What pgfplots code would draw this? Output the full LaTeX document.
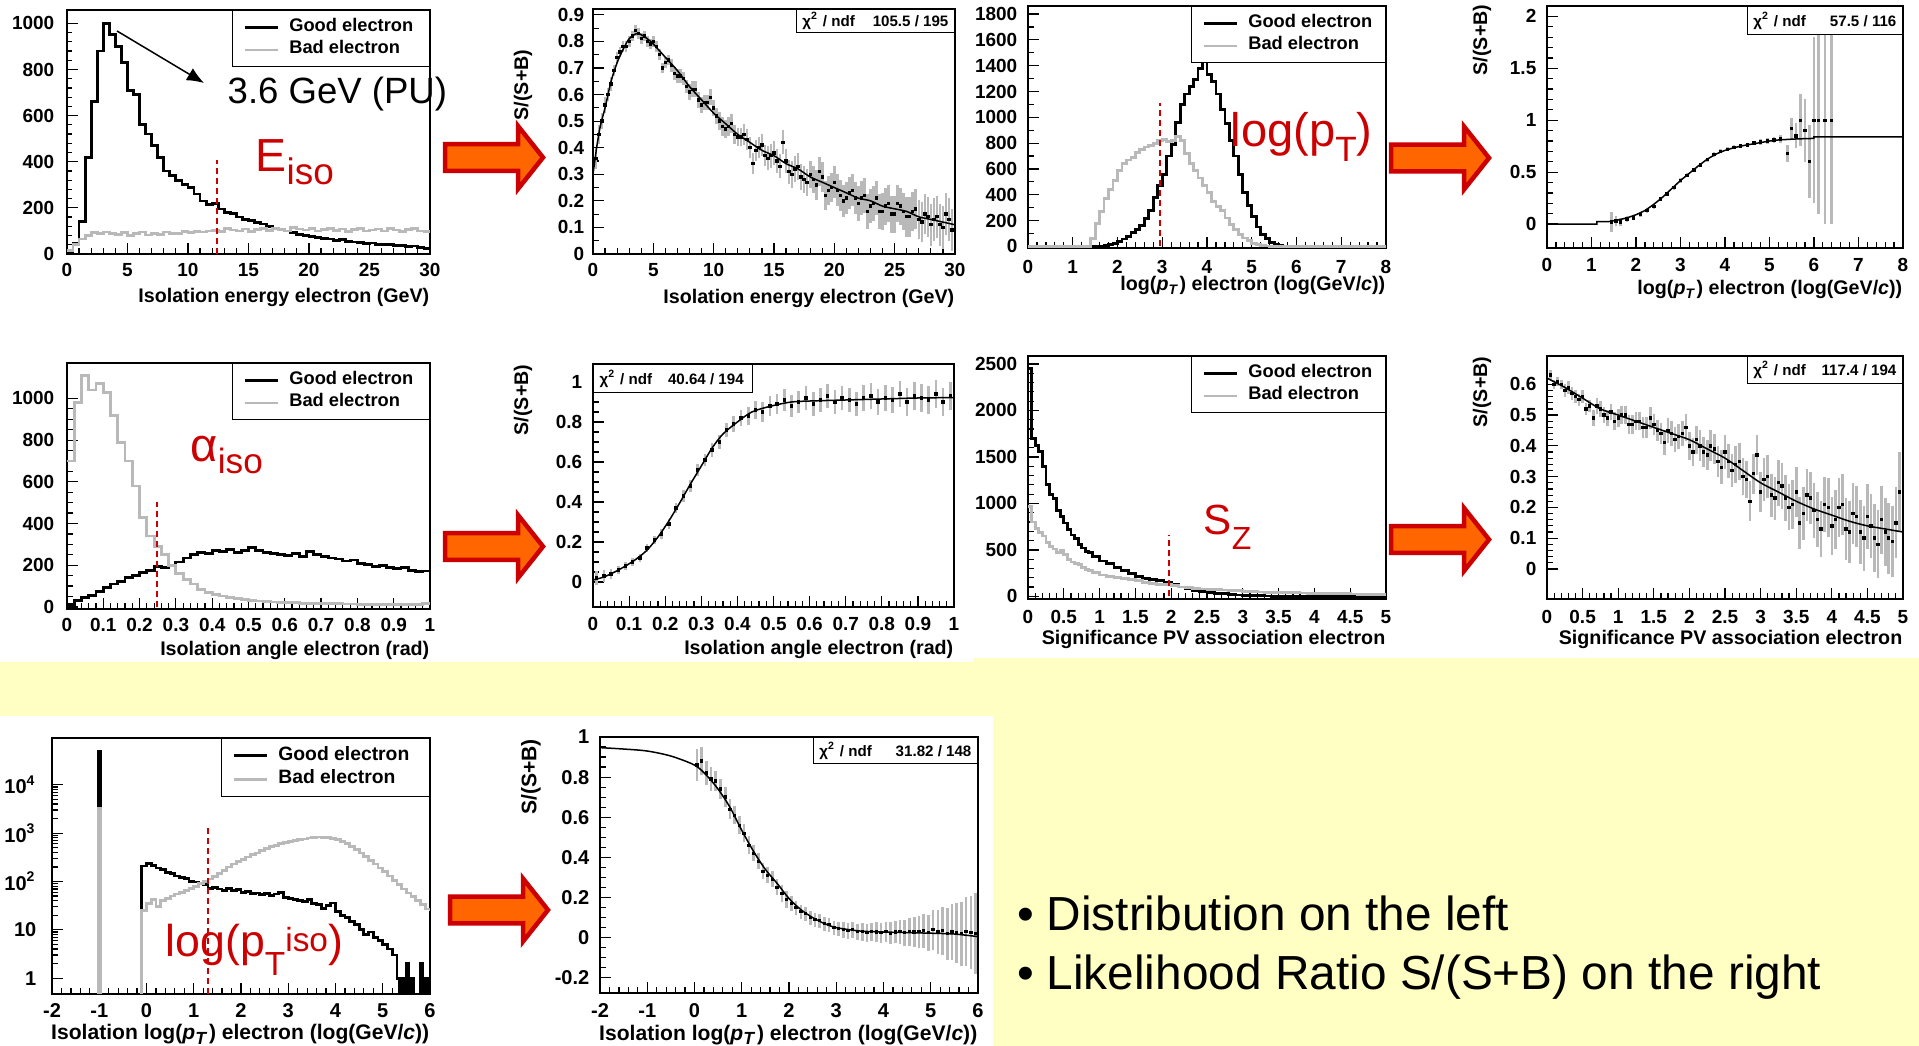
\documentclass[border=0pt]{standalone}
\usepackage{graphicx}
\usepackage{pgfplots}
\pgfplotsset{compat=1.18}
\usepackage{fontspec}
\setmainfont{Liberation Sans}
\usetikzlibrary{arrows.meta}
\definecolor{slideyellow}{RGB}{255,255,196}
\definecolor{rootgray}{RGB}{185,185,185}
\definecolor{annred}{RGB}{204,0,0}
\definecolor{arrowfill}{RGB}{255,102,0}
\newcommand\tickfont{\bfseries\fontsize{5.4pt}{6pt}\selectfont}
\newcommand\labfont{\bfseries\fontsize{5.6pt}{6.5pt}\selectfont}
\newcommand\legfont{\bfseries\fontsize{5.2pt}{6pt}\selectfont}
\newcommand\btickfont{\bfseries\fontsize{5.7pt}{6.5pt}\selectfont}
\newcommand\blabfont{\bfseries\fontsize{6.0pt}{7pt}\selectfont}
\newcommand\blegfont{\bfseries\fontsize{5.5pt}{6.5pt}\selectfont}
\newcommand\chifont{\bfseries\fontsize{4.3pt}{5pt}\selectfont}
\newcommand\bigarrow[2]{\filldraw[fill=arrowfill, draw=annred, line width=0.45mm, line join=miter] (#1+2.2,#2-13.3) -- (#1+75,#2-13.3) -- (#1+75,#2-31.5) -- (#1+100,#2) -- (#1+75,#2+31.5) -- (#1+75,#2+13.3) -- (#1+2.2,#2+13.3) -- cycle;}
\pgfplotsset{
 rootax/.style={
  scale only axis, anchor=north west,
  axis line style={line width=0.15mm},
  every tick/.style={black, line width=0.12mm},
  tick align=inside, xtick pos=left, ytick pos=left,
  major tick length=1.1mm, minor tick length=0.55mm,
  ticklabel style={font=\tickfont},
  xticklabel style={inner sep=0pt, anchor=north},
  yticklabel style={inner sep=0pt, anchor=east},
  /pgf/number format/assume math mode=true,
  /pgf/number format/1000 sep={},
  xlabel style={font=\labfont, at={(axis description cs:1,0)}, anchor=base east, inner sep=0pt},
 },
 histleg/.style={
  legend style={at={(1,1)}, anchor=north east, draw=black, line width=0.12mm, fill=white, font=\legfont, inner xsep=1.1mm, inner ysep=0.05mm, row sep=-1.0mm, /tikz/every odd column/.append style={column sep=0.3mm}},
  legend cell align=left,
  legend image code/.code={\draw[##1] (0mm,0mm) -- (3.3mm,0mm);},
 },
 good/.style={black, line width=0.28mm, const plot, no marks},
 bad/.style={rootgray, line width=0.28mm, const plot, no marks},
 cut/.style={forget plot, annred, line width=0.15mm, dash pattern=on 0.6mm off 0.4mm},
 fit/.style={black, line width=0.15mm, no marks},
 ratiopts/.style={only marks, mark=square*, mark size=0.1mm, black, error bars/.cd, y dir=both, y explicit, error mark=none, error bar style={rootgray, line width=0.26mm}},
}
\begin{document}
\begin{tikzpicture}
\fill[slideyellow] (0,0) rectangle (191.9mm,-104.6mm);
\fill[white] (0,0) rectangle (97.3mm,-66.2mm);
\fill[white] (97.3mm,0) rectangle (191.9mm,-65.8mm);
\fill[white] (0,-71.6mm) rectangle (99.3mm,-104.6mm);

% ---------- P1 ----------
\begin{axis}[rootax, histleg, at={(6.7mm,-1.0mm)}, width=36.3mm, height=24.4mm,
 xmin=0, xmax=30, ymin=0, ymax=1058, xtick={0,5,10,15,20,25,30}, ytick={0,200,400,600,800,1000},
 minor x tick num=4, minor y tick num=4, xticklabel style={yshift=-0.9mm}, yticklabel style={xshift=-1.2mm},
 xlabel={Isolation energy electron (GeV)}, xlabel style={yshift=-4.9mm}]
\addplot[good] coordinates {(0,12)(0.5,45)(1,140)(1.5,420)(2,660)(2.5,880)(3,1000)(3.5,950)(4,900)(4.5,830)(5,710)(5.5,690)(6,560)(6.5,520)(7,470)(7.5,420)(8,360)(8.5,340)(9,320)(9.5,300)(10,290)(10.5,260)(11,230)(11.5,215)(12,220)(12.5,195)(13,180)(13.5,175)(14,160)(14.5,150)(15,145)(15.5,135)(16,130)(16.5,120)(17,110)(17.5,105)(18,100)(18.5,92)(19,85)(19.5,80)(20,75)(20.5,70)(21,68)(21.5,65)(22,60)(22.5,62)(23,55)(23.5,52)(24,50)(24.5,45)(25,48)(25.5,42)(26,40)(26.5,42)(27,38)(27.5,36)(28,33)(28.5,35)(29,28)(29.5,24)(30,24)};
\addlegendentry{\makebox[12.2mm][l]{Good electron}}
\addplot[bad] coordinates {(0,15)(0.5,40)(1,65)(1.5,80)(2,92)(2.5,88)(3,95)(3.5,90)(4,85)(4.5,92)(5,80)(5.5,88)(6,95)(6.5,82)(7,90)(7.5,86)(8,95)(8.5,90)(9,88)(9.5,96)(10,92)(10.5,98)(11,95)(11.5,100)(12,102)(12.5,98)(13,110)(13.5,104)(14,100)(14.5,108)(15,96)(15.5,105)(16,110)(16.5,102)(17,112)(17.5,106)(18,100)(18.5,115)(19,108)(19.5,104)(20,110)(20.5,100)(21,106)(21.5,112)(22,102)(22.5,108)(23,98)(23.5,106)(24,110)(24.5,100)(25,104)(25.5,108)(26,100)(26.5,112)(27,104)(27.5,98)(28,106)(28.5,110)(29,100)(29.5,96)(30,96)};
\addlegendentry{\makebox[12.2mm][l]{Bad electron}}
\addplot[cut] coordinates {(12.4,0)(12.4,407)};
\end{axis}

% ---------- P2 ----------
\begin{axis}[rootax, at={(59.3mm,-0.9mm)}, width=36.2mm, height=24.5mm,
 xmin=0, xmax=30, ymin=0, ymax=0.922, xtick={0,5,10,15,20,25,30}, ytick={0,0.1,0.2,0.3,0.4,0.5,0.6,0.7,0.8,0.9},
 minor x tick num=4, minor y tick num=1, xticklabel style={yshift=-0.9mm}, yticklabel style={xshift=-0.8mm},
 xlabel={Isolation energy electron (GeV)}, xlabel style={yshift=-5.0mm}]
\addplot[ratiopts] coordinates {(0.25,0.36)+-(0,0.04) (0.75,0.50)+-(0,0.03) (1.25,0.60)+-(0,0.025) (1.75,0.69)+-(0,0.02) (2.25,0.76)+-(0,0.02) (2.75,0.78)+-(0,0.02) (3.25,0.82)+-(0,0.02) (3.75,0.83)+-(0,0.02) (4.25,0.82)+-(0,0.02) (4.75,0.79)+-(0,0.02) (5.25,0.78)+-(0,0.02) (5.75,0.70)+-(0,0.02) (6.25,0.73)+-(0,0.02) (6.75,0.68)+-(0,0.025) (7.25,0.67)+-(0,0.025) (7.75,0.63)+-(0,0.025) (8.25,0.62)+-(0,0.03) (8.75,0.58)+-(0,0.03) (9.25,0.57)+-(0,0.03) (9.75,0.59)+-(0,0.03) (10.25,0.52)+-(0,0.03) (10.75,0.48)+-(0,0.035) (11.25,0.48)+-(0,0.035) (11.75,0.45)+-(0,0.035) (12.25,0.44)+-(0,0.035) (12.75,0.43)+-(0,0.04) (13.25,0.34)+-(0,0.04) (13.75,0.40)+-(0,0.04) (14.25,0.37)+-(0,0.04) (14.75,0.37)+-(0,0.045) (15.25,0.35)+-(0,0.045) (15.75,0.42)+-(0,0.045) (16.25,0.31)+-(0,0.045) (16.75,0.32)+-(0,0.05) (17.25,0.29)+-(0,0.05) (17.75,0.27)+-(0,0.05) (18.25,0.28)+-(0,0.05) (18.75,0.31)+-(0,0.055) (19.25,0.22)+-(0,0.055) (19.75,0.25)+-(0,0.055) (20.25,0.24)+-(0,0.06) (20.75,0.20)+-(0,0.06) (21.25,0.23)+-(0,0.06) (21.75,0.21)+-(0,0.06) (22.25,0.21)+-(0,0.065) (22.75,0.16)+-(0,0.065) (23.25,0.19)+-(0,0.065) (23.75,0.16)+-(0,0.065) (24.25,0.18)+-(0,0.07) (24.75,0.15)+-(0,0.07) (25.25,0.19)+-(0,0.07) (25.75,0.16)+-(0,0.07) (26.25,0.14)+-(0,0.075) (26.75,0.17)+-(0,0.075) (27.25,0.12)+-(0,0.075) (27.75,0.14)+-(0,0.075) (28.25,0.13)+-(0,0.08) (28.75,0.11)+-(0,0.08) (29.25,0.15)+-(0,0.08) (29.75,0.09)+-(0,0.08)};
\addplot[ratiopts] coordinates {(0.5,0.45)+-(0,0.035) (1,0.56)+-(0,0.03) (1.5,0.64)+-(0,0.025) (2,0.74)+-(0,0.02) (2.5,0.78)+-(0,0.02) (3,0.80)+-(0,0.02) (3.5,0.84)+-(0,0.02) (4,0.81)+-(0,0.02) (4.5,0.80)+-(0,0.02) (5,0.80)+-(0,0.02) (5.5,0.75)+-(0,0.02) (6,0.72)+-(0,0.02) (6.5,0.71)+-(0,0.025) (7,0.67)+-(0,0.025) (7.5,0.66)+-(0,0.025) (8,0.61)+-(0,0.03) (8.5,0.62)+-(0,0.03) (9,0.56)+-(0,0.03) (9.5,0.57)+-(0,0.03) (10,0.55)+-(0,0.03) (10.5,0.50)+-(0,0.035) (11,0.47)+-(0,0.035) (11.5,0.49)+-(0,0.035) (12,0.44)+-(0,0.035) (12.5,0.45)+-(0,0.04) (13,0.40)+-(0,0.04) (13.5,0.39)+-(0,0.04) (14,0.41)+-(0,0.04) (14.5,0.36)+-(0,0.045) (15,0.38)+-(0,0.045) (15.5,0.33)+-(0,0.045) (16,0.35)+-(0,0.045) (16.5,0.30)+-(0,0.05) (17,0.33)+-(0,0.05) (17.5,0.28)+-(0,0.05) (18,0.30)+-(0,0.05) (18.5,0.26)+-(0,0.055) (19,0.29)+-(0,0.055) (19.5,0.24)+-(0,0.055) (20,0.27)+-(0,0.06) (20.5,0.22)+-(0,0.06) (21,0.21)+-(0,0.06) (21.5,0.24)+-(0,0.06) (22,0.19)+-(0,0.065) (22.5,0.22)+-(0,0.065) (23,0.18)+-(0,0.065) (23.5,0.21)+-(0,0.065) (24,0.16)+-(0,0.07) (24.5,0.19)+-(0,0.07) (25,0.15)+-(0,0.07) (25.5,0.18)+-(0,0.07) (26,0.14)+-(0,0.075) (26.5,0.16)+-(0,0.075) (27,0.13)+-(0,0.075) (27.5,0.15)+-(0,0.075) (28,0.11)+-(0,0.08) (28.5,0.14)+-(0,0.08) (29,0.10)+-(0,0.08) (29.5,0.13)+-(0,0.08)};
\addplot[fit, smooth] coordinates {(0,0.30)(0.3,0.40)(0.6,0.48)(1,0.55)(1.5,0.65)(2,0.72)(2.5,0.77)(3,0.81)(3.7,0.83)(4.5,0.81)(5,0.79)(6,0.74)(7,0.69)(8,0.63)(9,0.58)(10,0.53)(11,0.49)(12,0.45)(13,0.42)(14,0.39)(15,0.37)(16,0.34)(17,0.32)(18,0.29)(19,0.27)(20,0.25)(21,0.23)(22,0.21)(23,0.20)(24,0.18)(25,0.17)(26,0.16)(27,0.14)(28,0.13)(29,0.12)(30,0.11)};
\node[draw=black, line width=0.12mm, fill=white, inner sep=0pt, minimum height=2.3mm, font=\chifont, anchor=north east] at (rel axis cs:1,1) {\makebox[15.8mm]{\hspace{0.6mm}χ\textsuperscript{2} / ndf\hfill 105.5 / 195\hspace{0.6mm}}};
\end{axis}

% ---------- P3 ----------
\begin{axis}[rootax, histleg, at={(102.8mm,-0.6mm)}, width=35.8mm, height=24.2mm,
 xmin=0, xmax=8, ymin=-12, ymax=1862, xtick={0,1,2,3,4,5,6,7,8}, ytick={0,200,400,600,800,1000,1200,1400,1600,1800},
 minor x tick num=4, minor y tick num=1, xticklabel style={yshift=-1.2mm}, yticklabel style={xshift=-1.0mm},
 xlabel={log(\textit{p}\textsubscript{\textit{T}}) electron (log(GeV/\textit{c}))}, xlabel style={yshift=-4.3mm}]
\addplot[good] coordinates {(1.4,0)(1.5,2)(1.6,4)(1.7,8)(1.8,14)(1.9,22)(2,40)(2.1,58)(2.2,80)(2.3,105)(2.4,130)(2.5,160)(2.6,215)(2.7,280)(2.8,380)(2.9,470)(3,560)(3.1,700)(3.2,790)(3.3,960)(3.4,1100)(3.5,1180)(3.6,1240)(3.7,1290)(3.8,1380)(3.9,1430)(4,1330)(4.1,1280)(4.2,1180)(4.3,1060)(4.4,950)(4.5,820)(4.6,700)(4.7,560)(4.8,420)(4.9,320)(5,230)(5.1,150)(5.2,90)(5.3,60)(5.4,32)(5.5,18)(5.6,8)(5.7,4)(5.8,2)(5.9,0)(8,0)};
\addlegendentry{\makebox[11.9mm][l]{Good electron}}
\addplot[bad] coordinates {(0,0)(1.4,60)(1.5,180)(1.6,270)(1.7,370)(1.8,440)(1.9,510)(2,590)(2.1,640)(2.2,670)(2.3,690)(2.4,730)(2.5,750)(2.6,770)(2.7,780)(2.8,800)(2.9,820)(3,830)(3.1,810)(3.2,820)(3.3,850)(3.4,820)(3.5,720)(3.6,640)(3.7,590)(3.8,530)(3.9,470)(4,420)(4.1,350)(4.2,310)(4.3,280)(4.4,220)(4.5,170)(4.6,130)(4.7,95)(4.8,65)(4.9,45)(5,25)(5.1,15)(5.2,8)(5.3,4)(5.4,0)(8,0)};
\addlegendentry{\makebox[11.9mm][l]{Bad electron}}
\addplot[cut] coordinates {(2.95,0)(2.95,1111)};
\end{axis}

% ---------- P4 ----------
\begin{axis}[rootax, at={(154.7mm,-0.6mm)}, width=35.6mm, height=24.2mm,
 xmin=0, xmax=8, ymin=-0.23, ymax=2.10, xtick={0,1,2,3,4,5,6,7,8}, ytick={0,0.5,1,1.5,2},
 minor x tick num=4, minor y tick num=4, xticklabel style={yshift=-1.0mm}, yticklabel style={xshift=-1.0mm},
 xlabel={log(\textit{p}\textsubscript{\textit{T}}) electron (log(GeV/\textit{c}))}, xlabel style={yshift=-4.7mm}]
\addplot[ratiopts] coordinates {(1.45,0.02)+-(0,0.10) (1.55,0.03)+-(0,0.05) (1.65,0.02)+-(0,0.04) (1.8,0.05)+-(0,0.03) (1.95,0.06)+-(0,0.02) (2.1,0.09)+-(0,0.02) (2.25,0.13)+-(0,0.02) (2.4,0.17)+-(0,0.02) (2.55,0.24)+-(0,0.02) (2.7,0.29)+-(0,0.02) (2.85,0.35)+-(0,0.02) (3,0.42)+-(0,0.02) (3.15,0.47)+-(0,0.02) (3.3,0.52)+-(0,0.02) (3.45,0.57)+-(0,0.02) (3.6,0.62)+-(0,0.02) (3.75,0.67)+-(0,0.02) (3.9,0.70)+-(0,0.02) (4.05,0.72)+-(0,0.02) (4.2,0.74)+-(0,0.02) (4.35,0.75)+-(0,0.02) (4.5,0.76)+-(0,0.02) (4.65,0.78)+-(0,0.02) (4.8,0.79)+-(0,0.025) (4.95,0.80)+-(0,0.03) (5.1,0.81)+-(0,0.03) (5.25,0.82)+-(0,0.04) (5.4,0.68)+-(0,0.08) (5.5,0.92)+-(0,0.10) (5.6,0.85)+-(0,0.12) (5.7,1.0)+-(0,0.25) (5.8,0.90)+-(0,0.30) (5.9,0.60)+-(0,0.35) (6.0,1.0)+-(0,0.8) (6.1,1.0)+-(0,0.9) (6.25,1.0)+-(0,1.0) (6.4,1.0)+-(0,1.0)};
\addplot[fit] coordinates {(0,0)(1.12,0)(1.12,0.023)(1.4,0.025)(1.6,0.04)(1.8,0.06)(2,0.09)(2.2,0.13)(2.4,0.19)(2.6,0.26)(2.8,0.34)(3,0.42)(3.2,0.49)(3.4,0.56)(3.6,0.625)(3.8,0.675)(4,0.71)(4.2,0.735)(4.4,0.755)(4.6,0.77)(4.8,0.785)(5,0.80)(5.2,0.81)(5.4,0.815)(5.6,0.82)(6,0.825)(6,0.84)(8,0.84)};
\node[draw=black, line width=0.12mm, fill=white, inner sep=0pt, minimum height=2.8mm, font=\chifont, anchor=north east] at (rel axis cs:1,1) {\makebox[15.5mm]{\hspace{0.6mm}χ\textsuperscript{2} / ndf\hfill 57.5 / 116\hspace{0.6mm}}};
\end{axis}

% ---------- P5 ----------
\begin{axis}[rootax, histleg, at={(6.7mm,-36.3mm)}, width=36.3mm, height=24.6mm,
 xmin=0, xmax=1, ymin=-10, ymax=1170, xtick={0,0.1,0.2,0.3,0.4,0.5,0.6,0.7,0.8,0.9,1}, ytick={0,200,400,600,800,1000},
 minor x tick num=4, minor y tick num=3, xticklabel style={yshift=-0.9mm}, yticklabel style={xshift=-1.2mm},
 xlabel={Isolation angle electron (rad)}, xlabel style={yshift=-4.7mm}]
\addplot[good] coordinates {(0,10)(0.02,30)(0.04,45)(0.06,55)(0.08,75)(0.1,95)(0.12,110)(0.14,120)(0.16,140)(0.18,150)(0.2,165)(0.22,175)(0.24,195)(0.26,190)(0.28,200)(0.3,215)(0.32,235)(0.34,250)(0.36,260)(0.38,255)(0.4,270)(0.42,265)(0.44,275)(0.46,260)(0.48,270)(0.5,285)(0.52,270)(0.54,260)(0.56,255)(0.58,250)(0.6,245)(0.62,255)(0.64,240)(0.66,265)(0.68,250)(0.7,240)(0.72,235)(0.74,230)(0.76,220)(0.78,225)(0.8,210)(0.82,205)(0.84,195)(0.86,200)(0.88,190)(0.9,185)(0.92,190)(0.94,175)(0.96,170)(0.98,172)(1,172)};
\addlegendentry{\makebox[12.2mm][l]{Good electron}}
\addplot[bad] coordinates {(0,700)(0.02,980)(0.04,1110)(0.06,1040)(0.08,1070)(0.1,1030)(0.12,920)(0.14,790)(0.16,700)(0.18,580)(0.2,430)(0.22,340)(0.24,290)(0.26,250)(0.28,200)(0.3,160)(0.32,130)(0.34,110)(0.36,85)(0.38,70)(0.4,58)(0.42,52)(0.44,45)(0.46,40)(0.48,35)(0.5,30)(0.52,28)(0.54,26)(0.56,24)(0.58,22)(0.6,20)(0.62,20)(0.64,18)(0.66,18)(0.68,16)(0.7,16)(0.72,15)(0.74,15)(0.76,14)(0.78,14)(0.8,13)(0.82,12)(0.84,12)(0.86,12)(0.88,11)(0.9,11)(0.92,10)(0.94,10)(0.96,10)(0.98,15)(1,15)};
\addlegendentry{\makebox[12.2mm][l]{Bad electron}}
\addplot[cut] coordinates {(0.248,0)(0.248,503)};
\end{axis}

% ---------- P6 ----------
\begin{axis}[rootax, at={(59.3mm,-36.4mm)}, width=36.1mm, height=24.3mm,
 xmin=0, xmax=1, ymin=-0.125, ymax=1.09, xtick={0,0.1,0.2,0.3,0.4,0.5,0.6,0.7,0.8,0.9,1}, ytick={0,0.2,0.4,0.6,0.8,1},
 minor x tick num=4, minor y tick num=3, xticklabel style={yshift=-1.0mm}, yticklabel style={xshift=-1.0mm},
 xlabel={Isolation angle electron (rad)}, xlabel style={yshift=-4.8mm}]
\addplot[ratiopts] coordinates {(0.01,0.02)+-(0,0.035) (0.03,0.03)+-(0,0.03) (0.05,0.04)+-(0,0.025) (0.07,0.06)+-(0,0.02) (0.09,0.08)+-(0,0.02) (0.11,0.10)+-(0,0.02) (0.13,0.12)+-(0,0.02) (0.15,0.17)+-(0,0.02) (0.17,0.21)+-(0,0.02) (0.19,0.24)+-(0,0.025) (0.21,0.29)+-(0,0.025) (0.23,0.37)+-(0,0.025) (0.25,0.43)+-(0,0.03) (0.27,0.48)+-(0,0.03) (0.29,0.56)+-(0,0.03) (0.31,0.61)+-(0,0.03) (0.33,0.66)+-(0,0.035) (0.35,0.70)+-(0,0.035) (0.37,0.76)+-(0,0.035) (0.39,0.79)+-(0,0.04) (0.41,0.82)+-(0,0.04) (0.43,0.83)+-(0,0.045) (0.45,0.86)+-(0,0.045) (0.47,0.85)+-(0,0.05) (0.49,0.88)+-(0,0.05) (0.51,0.89)+-(0,0.05) (0.53,0.91)+-(0,0.055) (0.55,0.88)+-(0,0.055) (0.57,0.90)+-(0,0.055) (0.59,0.92)+-(0,0.06) (0.61,0.89)+-(0,0.06) (0.63,0.91)+-(0,0.06) (0.65,0.93)+-(0,0.06) (0.67,0.90)+-(0,0.06) (0.69,0.92)+-(0,0.06) (0.71,0.91)+-(0,0.06) (0.73,0.89)+-(0,0.06) (0.75,0.92)+-(0,0.065) (0.77,0.93)+-(0,0.065) (0.79,0.90)+-(0,0.065) (0.81,0.92)+-(0,0.065) (0.83,0.91)+-(0,0.065) (0.85,0.94)+-(0,0.065) (0.87,0.90)+-(0,0.07) (0.89,0.93)+-(0,0.07) (0.91,0.92)+-(0,0.07) (0.93,0.91)+-(0,0.07) (0.95,0.94)+-(0,0.07) (0.97,0.90)+-(0,0.07) (0.99,0.93)+-(0,0.07)};
\addplot[fit, smooth] coordinates {(0,0.01)(0.03,0.025)(0.06,0.05)(0.09,0.08)(0.12,0.115)(0.15,0.16)(0.18,0.225)(0.21,0.305)(0.24,0.395)(0.27,0.49)(0.3,0.58)(0.33,0.67)(0.36,0.74)(0.4,0.80)(0.44,0.85)(0.49,0.878)(0.55,0.90)(0.62,0.906)(0.7,0.91)(0.8,0.915)(0.9,0.92)(1,0.922)};
\node[draw=black, line width=0.12mm, fill=white, inner sep=0pt, minimum height=2.8mm, font=\chifont, anchor=north west] at (rel axis cs:0,1) {\makebox[15.9mm]{\hspace{0.6mm}χ\textsuperscript{2} / ndf\hspace{1.6mm}40.64 / 194\hfill}};
\end{axis}

% ---------- P7 ----------
\begin{axis}[rootax, histleg, at={(102.8mm,-35.6mm)}, width=35.8mm, height=24.3mm,
 xmin=0, xmax=5, ymin=-28, ymax=2586, xtick={0,0.5,1,1.5,2,2.5,3,3.5,4,4.5,5}, ytick={0,500,1000,1500,2000,2500},
 minor x tick num=4, minor y tick num=4, xticklabel style={yshift=-1.1mm}, yticklabel style={xshift=-1.0mm},
 xlabel={Significance PV association electron}, xlabel style={yshift=-4.6mm}]
\addplot[good] coordinates {(0,2450)(0.05,1700)(0.1,1620)(0.15,1560)(0.2,1400)(0.25,1200)(0.3,1100)(0.35,1050)(0.4,920)(0.45,860)(0.5,790)(0.55,720)(0.6,660)(0.65,620)(0.7,560)(0.75,520)(0.8,480)(0.85,470)(0.9,430)(1,380)(1.1,350)(1.2,310)(1.3,280)(1.4,250)(1.5,210)(1.6,190)(1.7,185)(1.8,170)(1.9,150)(2,130)(2.1,100)(2.2,80)(2.3,65)(2.4,55)(2.5,45)(2.6,35)(2.7,28)(2.8,22)(2.9,15)(3,12)(3.1,8)(3.2,6)(3.3,4)(3.4,3)(3.5,3)(3.6,2)(3.7,2)(3.8,2)(3.9,1)(4,1)(4.5,1)(4.6,0)(5,0)};
\addlegendentry{\makebox[11.9mm][l]{Good electron}}
\addplot[bad] coordinates {(0,970)(0.05,800)(0.1,730)(0.15,690)(0.2,650)(0.25,580)(0.3,540)(0.35,510)(0.4,470)(0.45,500)(0.5,450)(0.55,400)(0.6,370)(0.65,350)(0.7,340)(0.75,310)(0.8,290)(0.85,280)(0.9,260)(1,230)(1.1,210)(1.2,200)(1.3,190)(1.4,180)(1.5,170)(1.6,150)(1.7,140)(1.8,130)(1.9,125)(2,120)(2.1,100)(2.2,92)(2.3,85)(2.4,80)(2.5,75)(2.6,72)(2.7,68)(2.8,65)(2.9,60)(3,55)(3.1,52)(3.2,48)(3.3,45)(3.4,45)(3.5,42)(3.6,40)(3.7,38)(3.8,36)(3.9,35)(4,33)(4.1,32)(4.2,30)(4.3,28)(4.4,27)(4.5,25)(4.6,24)(4.7,22)(4.8,20)(4.9,18)(5,18)};
\addlegendentry{\makebox[11.9mm][l]{Bad electron}}
\addplot[cut] coordinates {(1.97,0)(1.97,663)};
\end{axis}

% ---------- P8 ----------
\begin{axis}[rootax, at={(154.7mm,-35.6mm)}, width=35.6mm, height=24.3mm,
 xmin=0, xmax=5, ymin=-0.0975, ymax=0.692, xtick={0,0.5,1,1.5,2,2.5,3,3.5,4,4.5,5}, ytick={0,0.1,0.2,0.3,0.4,0.5,0.6},
 minor x tick num=4, minor y tick num=4, xticklabel style={yshift=-1.1mm}, yticklabel style={xshift=-1.0mm},
 xlabel={Significance PV association electron}, xlabel style={yshift=-4.6mm}]
\addplot[ratiopts] coordinates {(0.05,0.63)+-(0,0.015) (0.15,0.61)+-(0,0.015) (0.25,0.58)+-(0,0.02) (0.35,0.57)+-(0,0.02) (0.45,0.55)+-(0,0.02) (0.55,0.52)+-(0,0.02) (0.65,0.49)+-(0,0.025) (0.75,0.52)+-(0,0.025) (0.85,0.49)+-(0,0.025) (0.95,0.48)+-(0,0.03) (1.05,0.50)+-(0,0.03) (1.15,0.47)+-(0,0.03) (1.25,0.48)+-(0,0.03) (1.35,0.46)+-(0,0.035) (1.45,0.49)+-(0,0.035) (1.55,0.45)+-(0,0.035) (1.65,0.41)+-(0,0.04) (1.75,0.44)+-(0,0.04) (1.85,0.43)+-(0,0.04) (1.95,0.46)+-(0,0.045) (2.05,0.38)+-(0,0.045) (2.15,0.40)+-(0,0.05) (2.25,0.37)+-(0,0.05) (2.35,0.39)+-(0,0.05) (2.45,0.33)+-(0,0.055) (2.55,0.35)+-(0,0.055) (2.65,0.34)+-(0,0.06) (2.75,0.30)+-(0,0.06) (2.85,0.22)+-(0,0.065) (2.95,0.37)+-(0,0.065) (3.05,0.29)+-(0,0.07) (3.15,0.24)+-(0,0.07) (3.25,0.28)+-(0,0.075) (3.35,0.23)+-(0,0.075) (3.45,0.21)+-(0,0.08) (3.55,0.15)+-(0,0.085) (3.65,0.24)+-(0,0.085) (3.75,0.19)+-(0,0.09) (3.85,0.13)+-(0,0.09) (3.95,0.20)+-(0,0.095) (4.05,0.16)+-(0,0.095) (4.15,0.21)+-(0,0.1) (4.25,0.12)+-(0,0.1) (4.35,0.17)+-(0,0.1) (4.45,0.10)+-(0,0.105) (4.55,0.14)+-(0,0.105) (4.65,0.08)+-(0,0.11) (4.75,0.12)+-(0,0.11) (4.85,0.09)+-(0,0.115) (4.95,0.25)+-(0,0.13)};
\addplot[ratiopts] coordinates {(0.1,0.60)+-(0,0.015) (0.2,0.60)+-(0,0.015) (0.3,0.59)+-(0,0.02) (0.4,0.56)+-(0,0.02) (0.5,0.56)+-(0,0.02) (0.6,0.53)+-(0,0.02) (0.7,0.53)+-(0,0.025) (0.8,0.50)+-(0,0.025) (0.9,0.51)+-(0,0.025) (1,0.49)+-(0,0.03) (1.1,0.50)+-(0,0.03) (1.2,0.47)+-(0,0.03) (1.3,0.48)+-(0,0.03) (1.4,0.46)+-(0,0.035) (1.5,0.47)+-(0,0.035) (1.6,0.44)+-(0,0.035) (1.7,0.45)+-(0,0.04) (1.8,0.42)+-(0,0.04) (1.9,0.44)+-(0,0.04) (2,0.40)+-(0,0.045) (2.1,0.42)+-(0,0.045) (2.2,0.38)+-(0,0.05) (2.3,0.40)+-(0,0.05) (2.4,0.35)+-(0,0.05) (2.5,0.38)+-(0,0.055) (2.6,0.32)+-(0,0.055) (2.7,0.35)+-(0,0.06) (2.8,0.29)+-(0,0.06) (2.9,0.31)+-(0,0.065) (3,0.25)+-(0,0.065) (3.1,0.30)+-(0,0.07) (3.2,0.23)+-(0,0.07) (3.3,0.27)+-(0,0.075) (3.4,0.20)+-(0,0.075) (3.5,0.25)+-(0,0.08) (3.6,0.18)+-(0,0.085) (3.7,0.23)+-(0,0.085) (3.8,0.16)+-(0,0.09) (3.9,0.21)+-(0,0.09) (4,0.14)+-(0,0.095) (4.1,0.20)+-(0,0.095) (4.2,0.13)+-(0,0.1) (4.3,0.18)+-(0,0.1) (4.4,0.12)+-(0,0.105) (4.5,0.17)+-(0,0.105) (4.6,0.10)+-(0,0.11) (4.7,0.16)+-(0,0.11) (4.8,0.10)+-(0,0.115) (4.9,0.15)+-(0,0.115)};
\addplot[fit, smooth] coordinates {(0,0.62)(0.25,0.59)(0.5,0.555)(0.75,0.52)(1,0.50)(1.25,0.48)(1.5,0.46)(1.75,0.44)(2,0.42)(2.25,0.39)(2.5,0.36)(2.75,0.32)(3,0.28)(3.25,0.25)(3.5,0.22)(3.75,0.195)(4,0.175)(4.25,0.155)(4.5,0.14)(4.75,0.13)(5,0.12)};
\node[draw=black, line width=0.12mm, fill=white, inner sep=0pt, minimum height=2.7mm, font=\chifont, anchor=north east] at (rel axis cs:1,1) {\makebox[15.5mm]{\hspace{0.6mm}χ\textsuperscript{2} / ndf\hfill 117.4 / 194\hspace{0.6mm}}};
\end{axis}

% ---------- P9 ----------
\begin{axis}[rootax, histleg, at={(5.2mm,-73.8mm)}, width=37.8mm, height=25.6mm, ymode=log,
 xmin=-2, xmax=6, ymin=0.47, ymax=93000, xtick={-2,-1,0,1,2,3,4,5,6}, ytick={1,10,100,1000,10000},
 yticklabels={1,10,10\textsuperscript{2},10\textsuperscript{3},10\textsuperscript{4}},
 ticklabel style={font=\btickfont}, xlabel style={font=\blabfont}, legend style={font=\blegfont},
 minor x tick num=4, xticklabel style={yshift=-0.9mm}, yticklabel style={xshift=-1.5mm},
 xlabel={Isolation log(\textit{p}\textsubscript{\textit{T}}) electron (log(GeV/\textit{c}))}, xlabel style={yshift=-4.6mm}]
\addplot[good] coordinates {(-2,0.01)(-1.02,49000)(-0.98,0.01)(-0.1,210)(0,235)(0.1,215)(0.2,190)(0.3,175)(0.4,155)(0.5,145)(0.6,130)(0.7,120)(0.8,115)(0.9,100)(1,98)(1.1,92)(1.2,85)(1.3,72)(1.4,74)(1.5,70)(1.6,66)(1.7,72)(1.8,64)(1.9,68)(2,60)(2.1,63)(2.2,56)(2.3,58)(2.4,54)(2.5,57)(2.6,52)(2.7,55)(2.8,60)(2.9,46)(3,45)(3.1,42)(3.2,40)(3.3,38)(3.4,42)(3.5,35)(3.6,33)(3.7,28)(3.8,32)(3.9,36)(4,24)(4.1,20)(4.2,18)(4.3,15)(4.4,13)(4.5,10)(4.6,8)(4.7,9)(4.8,7)(4.9,6)(5,5)(5.1,4)(5.2,3)(5.3,1)(5.35,0.01)(5.4,1)(5.45,0.01)(5.5,2)(5.55,0.01)(5.6,1)(5.65,0.01)(5.8,2)(5.85,0.01)(5.9,1)(5.95,0.01)(6,0.01)};
\addlegendentry{\makebox[13.3mm][l]{Good electron}}
\addplot[bad] coordinates {(-2,0.01)(-1.02,3300)(-0.98,0.01)(-0.1,25)(0,35)(0.1,42)(0.2,30)(0.3,40)(0.4,45)(0.5,50)(0.6,55)(0.7,60)(0.8,65)(0.9,72)(1,80)(1.1,90)(1.2,100)(1.3,112)(1.4,125)(1.5,145)(1.6,170)(1.7,200)(1.8,230)(1.9,260)(2,285)(2.1,320)(2.2,360)(2.3,390)(2.4,430)(2.5,480)(2.6,520)(2.7,560)(2.8,600)(2.9,640)(3,680)(3.1,700)(3.2,730)(3.3,760)(3.4,790)(3.5,810)(3.6,830)(3.7,820)(3.8,810)(3.9,780)(4,740)(4.1,680)(4.2,600)(4.3,530)(4.4,460)(4.5,390)(4.6,330)(4.7,270)(4.8,230)(4.9,190)(5,160)(5.1,130)(5.2,105)(5.3,85)(5.4,70)(5.5,58)(5.6,48)(5.7,40)(5.8,33)(5.9,27)(6,24)};
\addlegendentry{\makebox[13.3mm][l]{Bad electron}}
\addplot[cut] coordinates {(1.30,0.47)(1.30,1350)};
\end{axis}

% ---------- P10 ----------
\begin{axis}[rootax, at={(60.0mm,-73.7mm)}, width=37.8mm, height=25.6mm,
 xmin=-2, xmax=6, ymin=-0.276, ymax=1.0, xtick={-2,-1,0,1,2,3,4,5,6}, ytick={-0.2,0,0.2,0.4,0.6,0.8,1},
 ticklabel style={font=\btickfont}, xlabel style={font=\blabfont},
 minor x tick num=4, minor y tick num=3, xticklabel style={yshift=-1.0mm}, yticklabel style={xshift=-1.0mm},
 xlabel={Isolation log(\textit{p}\textsubscript{\textit{T}}) electron (log(GeV/\textit{c}))}, xlabel style={yshift=-4.7mm}]
\addplot[ratiopts] coordinates {(0.05,0.86)+-(0,0.08) (0.15,0.88)+-(0,0.07) (0.25,0.82)+-(0,0.06) (0.35,0.79)+-(0,0.06) (0.45,0.78)+-(0,0.05) (0.55,0.74)+-(0,0.05) (0.65,0.70)+-(0,0.05) (0.75,0.64)+-(0,0.05) (0.85,0.61)+-(0,0.045) (0.95,0.56)+-(0,0.045) (1.05,0.52)+-(0,0.045) (1.15,0.46)+-(0,0.045) (1.25,0.42)+-(0,0.04) (1.35,0.38)+-(0,0.04) (1.45,0.33)+-(0,0.04) (1.55,0.31)+-(0,0.04) (1.65,0.29)+-(0,0.04) (1.75,0.25)+-(0,0.04) (1.85,0.22)+-(0,0.04) (1.95,0.19)+-(0,0.04) (2.05,0.17)+-(0,0.035) (2.15,0.15)+-(0,0.035) (2.25,0.13)+-(0,0.035) (2.35,0.12)+-(0,0.035) (2.45,0.10)+-(0,0.035) (2.55,0.09)+-(0,0.035) (2.65,0.085)+-(0,0.035) (2.75,0.07)+-(0,0.035) (2.85,0.065)+-(0,0.035) (2.95,0.05)+-(0,0.035) (3.05,0.045)+-(0,0.035) (3.15,0.04)+-(0,0.04) (3.25,0.035)+-(0,0.04) (3.35,0.04)+-(0,0.04) (3.45,0.03)+-(0,0.04) (3.55,0.03)+-(0,0.045) (3.65,0.025)+-(0,0.045) (3.75,0.03)+-(0,0.045) (3.85,0.028)+-(0,0.05) (3.95,0.025)+-(0,0.05) (4.05,0.03)+-(0,0.05) (4.15,0.022)+-(0,0.055) (4.25,0.028)+-(0,0.055) (4.35,0.03)+-(0,0.06) (4.45,0.025)+-(0,0.065) (4.55,0.03)+-(0,0.07) (4.65,0.028)+-(0,0.075) (4.75,0.03)+-(0,0.08) (4.85,0.035)+-(0,0.085) (4.95,0.025)+-(0,0.09) (5.05,0.04)+-(0,0.1) (5.15,0.03)+-(0,0.11) (5.25,0.035)+-(0,0.12) (5.35,0.02)+-(0,0.13) (5.45,0.03)+-(0,0.14) (5.55,0.025)+-(0,0.15) (5.65,0.02)+-(0,0.16) (5.75,0.03)+-(0,0.17) (5.85,0.025)+-(0,0.18) (5.95,0.02)+-(0,0.2)};
\addplot[fit, smooth] coordinates {(-2,0.947)(-1.5,0.94)(-1,0.93)(-0.5,0.905)(0,0.86)(0.25,0.81)(0.5,0.74)(0.75,0.65)(1,0.535)(1.25,0.43)(1.5,0.34)(1.75,0.27)(2,0.195)(2.25,0.14)(2.5,0.10)(2.75,0.07)(3,0.05)(3.5,0.033)(4,0.028)(4.5,0.025)(5,0.022)(5.5,0.018)(6,0.005)};
\node[draw=black, line width=0.12mm, fill=white, inner sep=0pt, minimum height=2.6mm, font=\chifont, anchor=north east] at (rel axis cs:1,1) {\makebox[16.4mm]{\hspace{0.6mm}χ\textsuperscript{2} / ndf\hfill 31.82 / 148\hspace{0.6mm}}};
\end{axis}

% ---------- annotations (pixel units) ----------
\begin{scope}[x=0.1mm,y=-0.1mm]
\bigarrow{443}{157.5}
\bigarrow{1389}{158}
\bigarrow{443}{546.5}
\bigarrow{1389}{539.5}
\bigarrow{448}{910}
\draw[line width=0.15mm, -{Latex[length=1.7mm,width=1.4mm]}] (117,31) -- (204,83);
\node[anchor=base west, inner sep=0] at (227,104) {\fontsize{10.4pt}{12pt}\selectfont 3.6 GeV (PU)};
\node[anchor=base west, inner sep=0, text=annred] at (255,172) {\fontsize{13.2pt}{15pt}\selectfont E\raisebox{-1.26mm}{\fontsize{10.5pt}{12pt}\selectfont iso}};
\node[anchor=base west, inner sep=0, text=annred] at (1230,147) {\fontsize{13.4pt}{15pt}\selectfont log(p\raisebox{-1.5mm}{\fontsize{10pt}{12pt}\selectfont T})};
\node[anchor=base west, inner sep=0, text=annred] at (190,462) {\fontsize{13.4pt}{15pt}\selectfont α\raisebox{-1.2mm}{\fontsize{10pt}{12pt}\selectfont iso}};
\node[anchor=base west, inner sep=0, text=annred] at (1203,535) {\fontsize{12pt}{14pt}\selectfont S\raisebox{-1.5mm}{\fontsize{9.1pt}{11pt}\selectfont Z}};
\node[anchor=base west, inner sep=0, text=annred] at (165,956) {\fontsize{12.7pt}{14pt}\selectfont log(p\raisebox{-1.9mm}{\fontsize{9.5pt}{11pt}\selectfont T}\raisebox{0.5mm}{\fontsize{9.5pt}{11pt}\selectfont iso})};
\node[rotate=90, font=\labfont] at (523,85) {S/(S+B)};
\node[rotate=90, font=\labfont] at (1482,40) {S/(S+B)};
\node[rotate=90, font=\labfont] at (523,400) {S/(S+B)};
\node[rotate=90, font=\labfont] at (1482,392) {S/(S+B)};
\node[rotate=90, font=\blabfont] at (531,777) {S/(S+B)};
\node[anchor=base west, inner sep=0] at (1017,930) {\fontsize{13.6pt}{16pt}\selectfont •};
\node[anchor=base west, inner sep=0] at (1046,930) {\fontsize{13.6pt}{16pt}\selectfont Distribution on the left};
\node[anchor=base west, inner sep=0] at (1017,989) {\fontsize{13.6pt}{16pt}\selectfont •};
\node[anchor=base west, inner sep=0] at (1046,989) {\fontsize{13.6pt}{16pt}\selectfont Likelihood Ratio S/(S+B) on the right};
\end{scope}
\pgfresetboundingbox
\useasboundingbox (0,0) rectangle (191.9mm,-104.6mm);
\end{tikzpicture}
\end{document}
